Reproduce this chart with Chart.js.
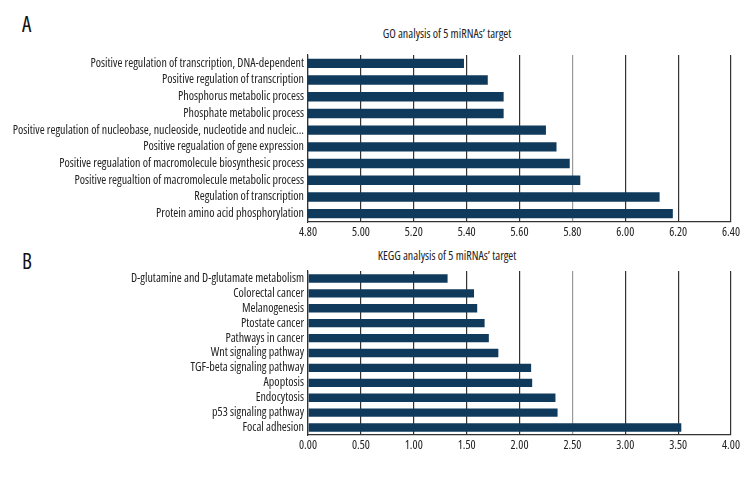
<!DOCTYPE html>
<html>
<head>
<meta charset="utf-8">
<script src="https://cdn.jsdelivr.net/npm/chart.js@4"></script>
<style>
  body { margin: 0; background: #fff; }
  #wrap { position: relative; width: 756px; height: 480px; overflow: hidden; color: #111;
    font-family: 'Open Sans', sans-serif; font-stretch: condensed; }
  .panel { position: absolute; left: 0; width: 756px; height: 240px; }
  .letter { position: absolute; font-size: 21px; }
  .title { position: absolute; font-size: 12px; transform: translateX(-50%); white-space: nowrap; color: #222; }
</style>
</head>
<body>
<div id="wrap">
  <div class="letter" style="left:22px; top:10px;">A</div>
  <div class="title" style="left:447px; top:25px;">GO analysis of 5 miRNAs’ target</div>
  <div class="panel" style="top:0;"><canvas id="goChart"></canvas></div>

  <div class="letter" style="left:22px; top:247px;">B</div>
  <div class="title" style="left:447px; top:247px;">KEGG analysis of 5 miRNAs’ target</div>
  <div class="panel" style="top:240px;"><canvas id="keggChart"></canvas></div>
</div>
<script>
const goTerms = [
  'Positive regulation of transcription, DNA-dependent',
  'Positive regulation of transcription',
  'Phosphorus metabolic process',
  'Phosphate metabolic process',
  'Positive regulation of nucleobase, nucleoside, nucleotide and nucleic...',
  'Positive regualation of gene expression',
  'Positive regualation of macromolecule biosynthesic process',
  'Positive regualtion of macromolecule metabolic process',
  'Regulation of transcription',
  'Protein amino acid phosphorylation'
];
const goValues = [5.39, 5.48, 5.54, 5.54, 5.70, 5.74, 5.79, 5.83, 6.13, 6.18];
const goTicks = { min: 4.8, max: 6.4, step: 0.2 };

const keggTerms = [
  'D-glutamine and D-glutamate metabolism',
  'Colorectal cancer',
  'Melanogenesis',
  'Ptostate cancer',
  'Pathways in cancer',
  'Wnt signaling pathway',
  'TGF-beta signaling pathway',
  'Apoptosis',
  'Endocytosis',
  'p53 signaling pathway',
  'Focal adhesion'
];
const keggValues = [1.32, 1.57, 1.60, 1.67, 1.71, 1.80, 2.11, 2.12, 2.34, 2.36, 3.53];
const keggTicks = { min: 0, max: 4, step: 0.5 };

// Open Sans is variable width here, "condensed" goes in through the weight slot of the font string
const FONT = "'Open Sans', sans-serif";
Chart.defaults.font.family = FONT;
Chart.defaults.color = '#222';

function makeChart(id, labels, values, range, pad) {
  return new Chart(document.getElementById(id), {
    type: 'bar',
    data: {
      labels: labels,
      datasets: [{
        data: values,
        backgroundColor: '#103a5c',
        borderWidth: 0,
        barPercentage: 0.56,
        categoryPercentage: 1
      }]
    },
    options: {
      indexAxis: 'y',
      responsive: true,
      maintainAspectRatio: false,
      animation: false,
      layout: { padding: { top: pad.top, bottom: pad.bottom, left: 0, right: 25 } },
      plugins: { legend: { display: false }, tooltip: { enabled: false } },
      scales: {
        x: {
          min: range.min,
          max: range.max,
          ticks: {
            stepSize: range.step,
            padding: 3,
            font: { size: 12, weight: 'condensed' },
            callback: v => Number(v).toFixed(2)
          },
          grid: {
            drawTicks: false,
            lineWidth: 1.2,
            color: ctx => ctx.index === 5 ? '#9a9a9a' : '#333'
          },
          border: { color: '#333', width: 1.2 },
          afterFit: s => { s.height = 18; }
        },
        y: {
          ticks: { padding: 4, font: { size: 12, weight: 'condensed' }, autoSkip: false },
          grid: { display: false, drawTicks: false },
          border: { color: '#333', width: 1.2 },
          afterFit: s => { s.width = 308; }
        }
      }
    }
  });
}

makeChart('goChart', goTerms, goValues, goTicks, { top: 55, bottom: 0 });
makeChart('keggChart', keggTerms, keggValues, keggTicks, { top: 31, bottom: 27 });
</script>
</body>
</html>
